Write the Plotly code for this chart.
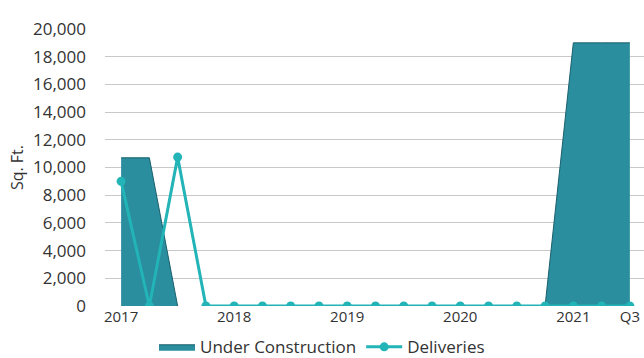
import plotly.graph_objects as go

quarters = ["2017 Q1","2017 Q2","2017 Q3","2017 Q4",
            "2018 Q1","2018 Q2","2018 Q3","2018 Q4",
            "2019 Q1","2019 Q2","2019 Q3","2019 Q4",
            "2020 Q1","2020 Q2","2020 Q3","2020 Q4",
            "2021 Q1","2021 Q2","2021 Q3"]
under_construction = [10700, 10700, 0, None, None, None, None, None, None, None, None, None, None, None, None, 0, 19000, 19000, 19000]
deliveries = [9000, 0, 10750, 0, 0, 0, 0, 0, 0, 0, 0, 0, 0, 0, 0, 0, 0, 0, 0]
tick_positions = [0, 4, 8, 12, 16, 18]
tick_labels = ["2017", "2018", "2019", "2020", "2021", "Q3"]
y_ticks = list(range(0, 20001, 2000))

x = list(range(len(quarters)))

fig = go.Figure()
fig.add_trace(go.Scatter(
    x=x, y=under_construction, name="Under Construction",
    mode="lines", fill="tozeroy", connectgaps=False,
    line=dict(color="#1b5f6c", width=1),
    fillcolor="#2a8e9f", hoverinfo="skip",
))
fig.add_trace(go.Scatter(
    x=x, y=deliveries, name="Deliveries",
    mode="lines+markers",
    line=dict(color="#22b4b6", width=3),
    marker=dict(color="#22b4b6", size=9),
))

fig.update_layout(
    width=644, height=358,
    margin=dict(l=105, r=0, t=29, b=52, autoexpand=False),
    paper_bgcolor="white", plot_bgcolor="white",
    font=dict(family="Open Sans", color="#333333", size=14),
    showlegend=True,
    legend=dict(orientation="h", xref="container", yref="container",
                x=0.5, xanchor="center", y=0.03, yanchor="middle",
                font=dict(size=17, color="#333333"), itemwidth=36,
                tracegroupgap=0),
)
fig.update_xaxes(
    range=[-0.57, 18.5], tickmode="array", tickvals=tick_positions, ticktext=tick_labels,
    showgrid=False, zeroline=False, showline=False, ticks="", automargin=False,
    tickfont=dict(size=15, color="#333333"),
)
fig.update_yaxes(
    range=[0, 20000], tickvals=y_ticks, tickformat=",d",
    showgrid=True, gridcolor="#c8c8c8", gridwidth=1, zeroline=False,
    showline=False, ticklabelstandoff=18, automargin=False,
    tickfont=dict(size=17, color="#333333"),
    title=dict(text="Sq. Ft.", font=dict(size=16, color="#333333"), standoff=5),
)
fig.write_html("out.html", config={"displayModeBar": False},
               post_script="document.body.style.margin='0';")
